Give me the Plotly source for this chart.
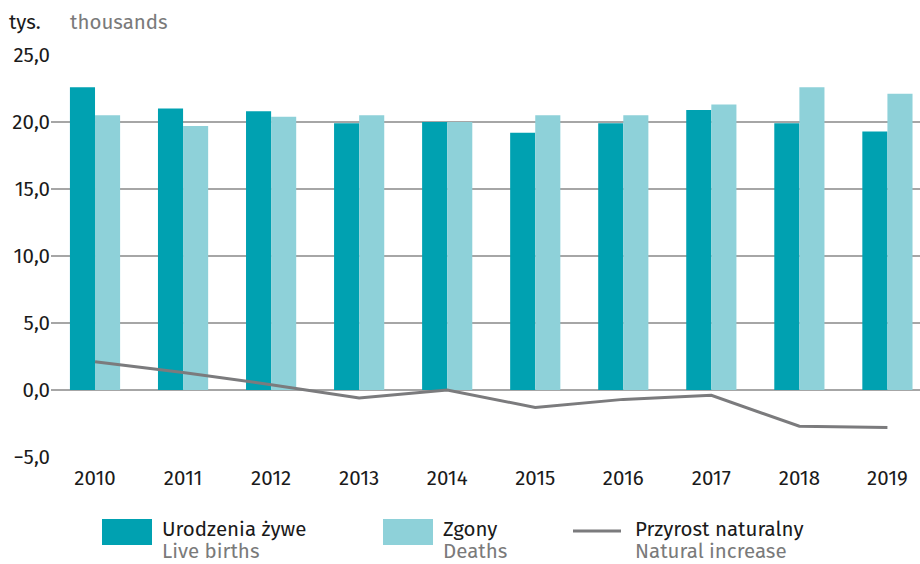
import plotly.graph_objects as go

# values in thousands
years = ["2010", "2011", "2012", "2013", "2014", "2015", "2016", "2017", "2018", "2019"]
live_births = [22.6, 21.0, 20.8, 19.9, 20.0, 19.2, 19.9, 20.9, 19.9, 19.3]
deaths = [20.5, 19.7, 20.4, 20.5, 20.0, 20.5, 20.5, 21.3, 22.6, 22.1]
natural_increase = [2.1, 1.3, 0.4, -0.6, 0.0, -1.3, -0.7, -0.4, -2.7, -2.8]
y_ticks = [-5, 0, 5, 10, 15, 20, 25]

C_BIRTHS = "#00a1b1"
C_DEATHS = "#8ed1d9"
C_LINE = "#7b7b7d"
FONT = "Fira Sans, Noto Sans, sans-serif"
FS = 20.5

W, H = 920, 564
L, R, T, B = 51, 0, 55, 107


def px(x):
    return (x - L) / (W - L - R)


def py(y):
    return (H - B - y) / (H - T - B)


fig = go.Figure()
fig.add_trace(go.Bar(x=years, y=live_births, name="Urodzenia żywe",
                     marker=dict(color=C_BIRTHS, line=dict(width=0))))
fig.add_trace(go.Bar(x=years, y=deaths, name="Zgony",
                     marker=dict(color=C_DEATHS, line=dict(width=0))))
fig.add_trace(go.Scatter(x=years, y=natural_increase, name="Przyrost naturalny",
                         mode="lines", line=dict(color=C_LINE, width=3)))

# legend drawn by hand (large swatches, two-language labels)
shapes = [
    dict(type="rect", xref="paper", yref="paper", x0=px(102), x1=px(152),
         y0=py(545), y1=py(519), fillcolor=C_BIRTHS, line=dict(width=0)),
    dict(type="rect", xref="paper", yref="paper", x0=px(383), x1=px(433),
         y0=py(545), y1=py(519), fillcolor=C_DEATHS, line=dict(width=0)),
    dict(type="line", xref="paper", yref="paper", x0=px(573), x1=px(621),
         y0=py(531), y1=py(531), line=dict(color=C_LINE, width=3)),
]
legend_items = [(162, "Urodzenia żywe", "Live births"),
                (443, "Zgony", "Deaths"),
                (635, "Przyrost naturalny", "Natural increase")]
annotations = []
for x, pl, en in legend_items:
    annotations.append(dict(xref="paper", yref="paper", x=px(x - 2), y=py(529),
                            text=pl, showarrow=False, xanchor="left", yanchor="middle",
                            font=dict(size=FS, color="#1a1a1a", family=FONT)))
    annotations.append(dict(xref="paper", yref="paper", x=px(x - 2), y=py(551),
                            text=en, showarrow=False, xanchor="left", yanchor="middle",
                            font=dict(size=FS, color="#7a7a7a", family=FONT)))

annotations.append(dict(xref="paper", yref="paper", x=px(7), y=py(22),
                        text="tys.", showarrow=False, xanchor="left", yanchor="middle",
                        font=dict(size=FS, color="#1a1a1a", family=FONT)))
annotations.append(dict(xref="paper", yref="paper", x=px(68), y=py(22),
                        text="thousands", showarrow=False, xanchor="left", yanchor="middle",
                        font=dict(size=FS, color="#7a7a7a", family=FONT)))

fig.update_layout(
    width=W, height=H,
    margin=dict(l=L, r=R, t=T, b=B),
    paper_bgcolor="white", plot_bgcolor="white",
    barmode="group", bargap=0.43, bargroupgap=0,
    separators=", ",
    showlegend=False,
    font=dict(family=FONT, size=FS, color="#1a1a1a"),
    shapes=shapes, annotations=annotations,
)
fig.update_xaxes(type="category", range=[-0.5, 9.37], showgrid=False,
                 showline=False, ticks="", tickfont=dict(size=FS),
                 ticklabelstandoff=6)
fig.update_yaxes(range=[-5, 25], tickvals=y_ticks, tickformat=".1f",
                 showgrid=True, gridcolor="#a6a6a6", gridwidth=1.5,
                 zeroline=True, zerolinecolor="#a6a6a6", zerolinewidth=1.5,
                 showline=False, ticks="", tickfont=dict(size=FS))

# page body has an 8px margin by default; drop it so the figure sits at 0,0
fig.write_html("out.html", config={"displayModeBar": False},
               post_script="document.body.style.margin='0';")
